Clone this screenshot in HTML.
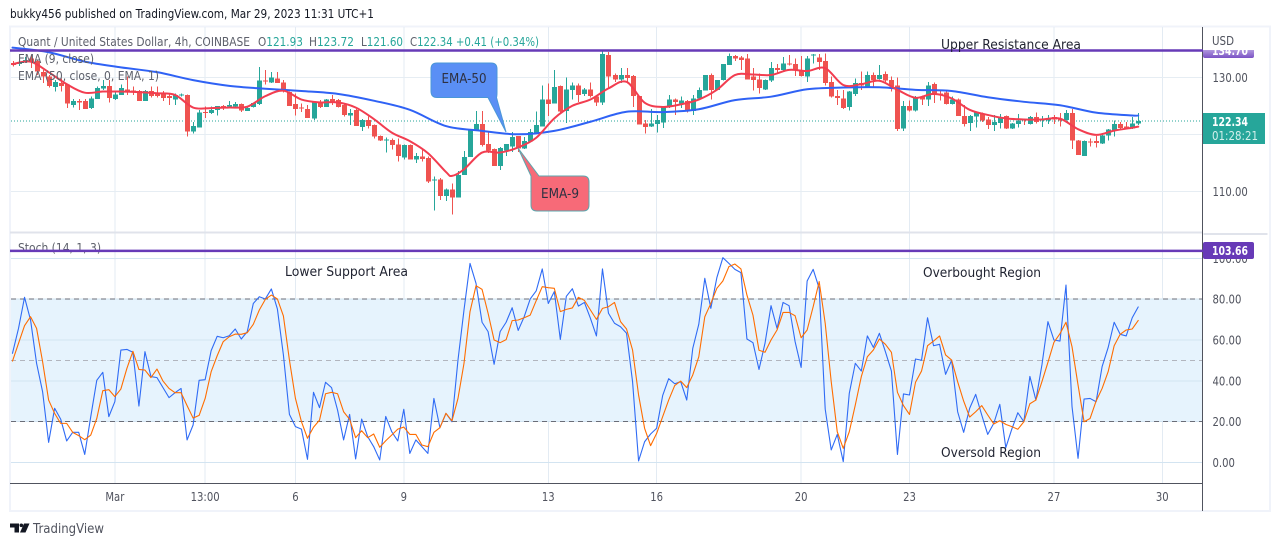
<!DOCTYPE html>
<html lang="en">
<head>
<meta charset="utf-8">
<title>Quant / United States Dollar chart</title>
<style>
html,body{margin:0;padding:0;background:#fff;width:1280px;height:546px;overflow:hidden}
svg{display:block;font-family:"DejaVu Sans","Liberation Sans",sans-serif}
</style>
</head>
<body>
<svg id="chart" xmlns="http://www.w3.org/2000/svg" width="1280" height="546" viewBox="0 0 1280 546">
<defs>
<clipPath id="clip-price"><rect x="11" y="28" width="1191" height="204"/></clipPath>
<clipPath id="clip-stoch"><rect x="11" y="234" width="1191" height="249"/></clipPath>
<clipPath id="clip-purple-label"><rect x="1203" y="50" width="51" height="9"/></clipPath>
<linearGradient id="purple-fade" x1="0" y1="0" x2="0" y2="1"><stop offset="0" stop-color="#d9cdf0"/><stop offset="1" stop-color="#7a52c4"/></linearGradient>
</defs>
<rect width="1280" height="546" fill="#fff"/>
<text x="10" y="18" font-size="12" fill="#131722" textLength="364" lengthAdjust="spacingAndGlyphs">bukky456 published on TradingView.com, Mar 29, 2023 11:31 UTC+1</text>
<rect x="10" y="26.5" width="1260" height="484.5" fill="#fff" stroke="#f0f3fa" stroke-width="2"/>
<g id="grid"></g>
<g id="bands"></g>
<g id="price-pane" clip-path="url(#clip-price)"></g>
<g id="stoch-pane" clip-path="url(#clip-stoch)"></g>
<line x1="10" y1="232.5" x2="1203" y2="232.5" stroke="#e0e3eb" stroke-width="2"/>
<line x1="1202.5" y1="27" x2="1202.5" y2="511" stroke="#50535e" stroke-width="1"/>
<line x1="10" y1="483.5" x2="1203" y2="483.5" stroke="#50535e" stroke-width="1"/>
<rect x="1203.5" y="233" width="64" height="2" fill="#e0e3eb"/>

<g font-size="12" fill="#5d606b">
<text x="18" y="46" textLength="232" lengthAdjust="spacingAndGlyphs">Quant / United States Dollar, 4h, COINBASE</text>
<text x="258" y="46" textLength="45" lengthAdjust="spacingAndGlyphs">O<tspan fill="#26a69a">121.93</tspan></text>
<text x="309" y="46" textLength="45" lengthAdjust="spacingAndGlyphs">H<tspan fill="#26a69a">123.72</tspan></text>
<text x="361" y="46" textLength="42" lengthAdjust="spacingAndGlyphs">L<tspan fill="#26a69a">121.60</tspan></text>
<text x="410" y="46" textLength="129" lengthAdjust="spacingAndGlyphs">C<tspan fill="#26a69a">122.34  +0.41 (+0.34%)</tspan></text>
<text x="18" y="63" textLength="76" lengthAdjust="spacingAndGlyphs">EMA (9, close)</text>
<text x="18" y="80" textLength="141" lengthAdjust="spacingAndGlyphs">EMA (50, close, 0, EMA, 1)</text>
<text x="18" y="252" textLength="83" lengthAdjust="spacingAndGlyphs">Stoch (14, 1, 3)</text>
</g>

<g id="levels"></g>

<g>
<path d="M437 63 H491 Q497 63 497 69 V92 Q497 97.5 496.5 97.5 L506 132 L488 97.5 H437 Q431 97.5 431 91 V69 Q431 63 437 63 Z" fill="#5a8ff5" stroke="#4a97d8" stroke-width="1"/>
<text x="464" y="83" font-size="13" fill="#2e3142" text-anchor="middle" textLength="45" lengthAdjust="spacingAndGlyphs">EMA-50</text>
</g>
<g>
<path d="M539 176 H583 Q589 176 589 182 V205 Q589 211 583 211 H537 Q531 211 531 205 V176 L518 148 Z" fill="#f76a78" stroke="#5ba7ae" stroke-width="1"/>
<text x="560" y="198" font-size="13" fill="#2e3142" text-anchor="middle" textLength="38" lengthAdjust="spacingAndGlyphs">EMA-9</text>
</g>

<g font-size="13" fill="#1f2230">
<text x="941" y="49" textLength="140" lengthAdjust="spacingAndGlyphs">Upper Resistance Area</text>
<text x="285" y="276" textLength="123" lengthAdjust="spacingAndGlyphs">Lower Support Area</text>
<text x="923" y="277" textLength="118" lengthAdjust="spacingAndGlyphs">Overbought Region</text>
<text x="941" y="457" textLength="100" lengthAdjust="spacingAndGlyphs">Oversold Region</text>
</g>

<g id="axis-labels" font-size="12" fill="#50535e"></g>
<text x="1212" y="45" font-size="12" fill="#50535e" textLength="22" lengthAdjust="spacingAndGlyphs">USD</text>

<g clip-path="url(#clip-purple-label)">
<rect x="1203" y="44" width="51" height="14" rx="2" fill="url(#purple-fade)"/>
<text x="1212" y="55" font-size="12" font-weight="bold" fill="#fff" textLength="36" lengthAdjust="spacingAndGlyphs">134.70</text>
</g>
<rect x="1203" y="242" width="51" height="17" rx="2" fill="#673ab7"/>
<text x="1212" y="255" font-size="12" font-weight="bold" fill="#fff" textLength="36" lengthAdjust="spacingAndGlyphs">103.66</text>
<rect x="1203" y="113" width="62" height="31" fill="#26a69a"/>
<text x="1212" y="126" font-size="12" font-weight="bold" fill="#fff" textLength="36" lengthAdjust="spacingAndGlyphs">122.34</text>
<text x="1212" y="140" font-size="12" fill="#d4f0ec" textLength="46" lengthAdjust="spacingAndGlyphs">01:28:21</text>

<g>
<path d="M10 523.5 H19 V532.5 H14.5 V527.5 H10 Z" fill="#131722"/>
<circle cx="21.3" cy="525.3" r="1.8" fill="#131722"/>
<path d="M24 523.5 H29.5 L25.5 532.5 H20 Z" fill="#131722"/>
<text x="33" y="533" font-size="13" fill="#50535e" textLength="71" lengthAdjust="spacingAndGlyphs">TradingView</text>
</g>
</svg>
<script>
const opens = [
132.5,132.3,132.6,133.3,132.9,130.9,130.1,128.3,129.0,128.7,
125.1,125.8,125.8,124.6,126.2,128.0,128.5,126.2,126.9,127.9,
127.7,127.6,125.8,127.6,127.1,127.1,126.7,126.1,126.8,126.9,
120.5,121.2,123.9,123.7,124.3,125.0,124.9,124.9,125.3,124.1,
124.8,125.3,129.4,129.1,129.8,129.1,127.4,125.3,124.7,124.4,
122.8,125.5,124.8,126.2,126.0,125.1,123.3,124.3,121.3,122.5,
121.6,119.7,119.0,119.0,118.2,115.9,118.1,115.6,116.1,115.8,
111.9,112.1,109.2,110.3,108.9,112.9,116.0,120.7,121.8,118.3,
117.4,114.4,117.2,117.9,119.7,117.5,118.7,120.1,121.4,126.1,
125.4,128.5,124.1,127.8,128.6,127.1,127.9,126.6,125.6,133.9,
130.4,129.6,130.4,130.2,126.7,121.9,121.4,121.8,122.1,124.8,
126.1,125.4,125.8,124.1,126.3,127.7,130.4,127.8,129.5,132.2,
133.7,133.5,133.3,130.1,129.6,127.9,129.4,131.6,131.3,132.4,
132.3,131.3,130.1,133.8,133.5,132.9,129.2,126.7,126.3,124.8,
127.1,129.0,128.4,130.4,129.7,130.6,129.5,128.6,121.0,125.0,
124.2,126.6,126.1,128.8,127.2,127.3,125.3,126.1,123.2,122.0,
123.1,123.6,122.6,121.6,122.0,123.2,121.0,121.8,122.6,121.8,
123.0,122.4,122.4,123.0,122.8,122.5,123.7,118.9,116.2,118.7,
118.8,118.4,119.8,120.6,121.8,121.4,121.0,121.93];
const highs = [
132.9,133.3,133.6,133.9,133.0,131.3,130.4,129.5,129.8,128.8,
126.2,126.2,126.2,126.6,128.4,129.5,129.5,127.5,128.7,130.1,
128.4,127.8,127.8,128.4,128.4,127.6,127.0,127.2,127.2,127.0,
122.2,124.3,124.9,124.9,125.0,125.1,125.8,125.7,125.4,124.7,
125.6,131.8,131.3,130.9,130.9,129.5,127.5,127.2,125.4,125.1,
125.8,126.0,126.2,126.9,126.2,125.3,124.4,124.4,122.7,123.1,
121.7,119.8,119.4,119.3,119.3,118.2,118.2,116.7,117.5,116.1,
112.6,112.3,110.5,111.4,113.6,117.1,120.7,124.1,124.1,120.6,
117.5,117.8,118.3,120.4,119.7,119.5,120.9,124.0,128.6,128.9,
131.3,128.6,130.0,129.1,128.9,128.1,129.1,126.7,134.9,134.4,
130.7,131.6,131.6,130.4,126.7,122.5,124.4,123.4,124.8,126.9,
126.3,126.6,126.0,126.9,128.2,130.4,130.7,129.5,132.3,134.2,
133.9,133.7,134.1,131.6,130.7,129.6,132.7,132.3,133.6,133.9,
133.3,133.7,133.7,134.1,134.1,134.2,130.1,127.8,127.8,127.6,
129.8,131.0,131.0,130.8,132.2,131.0,130.1,130.0,125.8,125.9,
126.7,126.8,129.2,129.1,127.6,127.8,126.6,126.3,125.1,123.4,
124.0,123.8,123.0,123.4,123.6,123.3,122.0,123.6,122.8,123.2,
123.8,123.2,123.4,123.4,123.7,124.3,124.4,119.0,118.9,119.3,
119.7,120.2,120.9,122.4,122.2,122.2,123.0,123.72];
const lows = [
131.9,132.0,132.5,131.6,130.4,129.0,128.2,127.5,127.5,124.6,
124.7,124.3,124.4,124.4,126.2,127.8,125.6,126.0,126.9,126.9,
126.9,125.8,125.8,126.5,126.5,125.8,125.1,125.1,126.6,119.6,
120.1,121.2,122.9,123.6,123.3,124.3,124.7,124.8,123.9,124.1,
124.7,125.1,128.7,129.0,129.0,127.3,125.0,123.3,123.9,122.9,
122.5,124.6,124.8,125.1,124.7,123.1,121.6,121.5,120.6,121.0,
119.3,118.8,116.8,117.3,115.2,115.6,115.6,115.0,115.2,111.5,
106.6,108.5,108.3,105.9,108.9,112.9,116.0,120.6,117.9,116.7,
114.4,113.7,116.2,116.9,116.9,117.4,118.7,120.1,121.4,123.2,
125.4,123.6,122.0,126.1,125.7,126.7,126.5,125.0,125.1,128.1,
129.2,129.0,128.9,124.8,121.7,120.1,121.3,120.3,121.1,124.6,
123.4,124.6,123.8,123.4,126.1,127.7,126.1,127.8,129.4,132.2,
132.9,131.3,129.6,127.7,127.2,127.8,129.2,130.6,131.2,132.1,
130.2,130.1,129.2,132.4,131.3,128.6,126.5,125.1,124.4,124.2,
126.7,127.8,128.4,128.4,129.6,129.2,127.5,120.6,120.6,124.0,
124.0,125.1,125.0,125.5,125.9,125.2,125.2,123.2,121.4,120.6,
121.2,122.2,120.9,120.6,121.0,120.9,120.9,121.2,121.6,121.7,
121.9,121.3,121.8,121.8,121.4,122.4,117.4,116.4,116.2,117.9,
117.7,118.3,118.9,119.6,120.8,120.8,120.9,121.60];
const closes = [
132.2,132.7,133.0,132.6,131.0,130.1,128.5,129.2,128.5,125.4,
125.8,125.6,124.4,126.3,128.1,128.5,126.4,127.0,128.1,127.5,
127.5,125.8,127.6,126.7,126.7,126.4,126.4,126.9,127.0,120.5,
121.5,123.8,123.7,124.3,125.0,124.8,125.1,125.3,124.2,124.6,
125.5,129.4,129.3,130.0,129.0,127.5,125.0,124.4,124.6,122.9,
125.6,124.8,126.1,125.5,124.8,123.4,123.7,121.5,122.5,121.5,
119.6,118.9,119.1,118.1,116.2,118.1,115.6,116.2,115.7,111.7,
112.1,109.2,110.3,108.9,112.9,116.0,120.7,121.8,118.1,117.2,
114.4,117.6,118.3,119.5,117.5,118.8,120.4,121.6,126.1,125.3,
128.3,124.0,127.9,128.6,126.9,127.9,126.7,125.6,134.1,130.1,
129.6,130.4,129.9,126.7,121.7,121.3,121.9,122.5,124.8,126.1,
125.7,125.9,124.1,126.3,127.8,130.4,127.8,129.5,132.3,133.7,
133.3,133.0,129.6,129.5,128.1,129.5,131.6,131.3,132.4,132.3,
131.2,130.2,133.3,134.0,132.7,129.0,126.6,126.4,124.6,127.5,
129.0,128.6,130.4,129.5,130.4,129.4,128.4,120.9,125.0,124.2,
126.5,126.1,128.6,126.9,127.1,125.3,126.1,123.2,121.8,123.2,
123.8,122.4,121.6,122.2,123.0,121.0,121.9,122.4,122.4,123.0,
122.2,122.6,122.8,122.6,122.4,123.7,118.9,116.4,118.8,118.6,
118.5,119.8,120.8,121.8,121.1,121.0,121.9,122.34];

const ema9Bars = [0,3,6,9,12,15,18,21,24,27,30,33,36,39,42,45,48,51,54,57,60,63,66,69,72,73,75,78,81,84,87,90,93,96,99,102,105,108,111,114,117,120,123,126,129,132,135,138,141,144,147,150,153,156,159,162,165,168,171,174,177,180,183,186,187];
const ema9Values = [132.3,132.75,130.9,128.8,127.3,127.5,127.5,127.4,127.2,126.9,124.7,124.6,124.7,124.85,126.7,127.65,126.1,125.6,125.6,124.7,122.7,120.3,118.8,116.7,113.4,112.7,113.85,116.8,116.8,117.7,119.4,122.8,125.0,126.1,128.05,129.2,125.55,124.8,125.25,126.1,127.8,130.4,130.5,130.4,131.3,131.1,131.6,128.65,128.8,129.4,127.8,126.4,127.1,126.3,124.3,123.4,122.8,122.6,122.6,122.75,120.9,119.9,120.65,121.15,121.35];
const ema50Bars = [0,6,12,18,24,30,36,42,48,54,60,66,72,78,84,90,96,102,108,114,120,126,132,138,144,150,156,162,168,174,180,186,187];
const ema50Values = [135.2,134.4,132.75,131.75,130.9,129.5,128.5,128.0,127.6,127.1,125.9,124.3,121.45,120.6,120.0,120.6,122.2,123.95,123.9,124.4,126.0,126.6,127.9,128.2,128.25,127.8,127.6,126.5,125.7,125.1,123.8,123.3,123.3];

const stochK = [
53.5,65.7,80.9,69.8,48.6,34.7,9.9,26.6,21.3,10.6,
14.8,14.8,4.0,22.5,40.3,44.2,22.5,29.8,55.1,55.4,
54.0,27.7,54.3,42.1,41.6,36.7,31.8,34.2,36.3,11.1,
18.4,40.3,40.6,54.8,61.8,61.1,62.1,65.4,60.5,64.1,
77.9,81.2,80.1,85.0,75.2,52.7,23.6,17.6,16.4,1.6,
34.4,26.9,39.3,36.7,25.7,11.1,23.6,1.8,21.3,12.7,
7.8,1.3,22.6,15.1,10.6,26.1,4.5,11.1,7.8,4.5,
31.4,17.1,24.1,20.0,50.2,74.7,97.5,87.7,68.7,64.1,
48.1,64.1,68.7,75.8,64.7,71.4,80.1,84.1,94.8,77.9,
83.7,60.3,81.4,85.1,76.6,78.4,70.6,62.0,94.8,73.1,
68.2,66.5,63.3,39.6,0.8,10.2,14.0,16.8,32.8,41.1,
38.6,39.6,30.6,55.9,67.7,90.2,75.5,90.5,100.3,97.5,
94.6,93.0,60.5,58.7,45.6,58.4,76.8,65.7,78.4,76.8,
59.2,46.6,88.9,94.6,85.3,26.2,6.2,13.8,0.5,33.9,
48.6,44.8,62.0,56.4,63.3,54.3,44.8,4.0,33.6,33.1,
50.7,50.1,70.9,57.2,57.9,43.2,50.1,24.9,14.8,26.6,
33.4,23.3,13.8,19.2,28.5,7.3,16.4,24.4,20.0,42.2,
30.6,47.8,69.0,60.0,59.5,86.9,27.4,2.1,31.1,31.4,
29.8,47.0,56.3,68.7,62.8,62.0,70.9,76.2];
const stochD = [
49.7,58.4,67.0,71.4,65.7,49.4,30.6,24.1,19.2,19.2,
14.8,13.2,11.2,13.5,21.6,35.2,35.7,32.3,36.0,46.1,
54.5,45.6,45.3,41.6,45.8,39.9,36.3,34.2,34.2,27.9,
21.8,23.1,31.4,44.5,52.3,59.2,61.6,62.9,62.8,63.6,
67.7,74.7,79.9,82.0,80.1,71.8,50.2,31.4,20.0,11.9,
17.3,20.8,33.7,34.4,33.7,24.9,21.2,12.2,15.6,12.2,
14.0,7.5,10.7,13.5,16.4,17.4,13.8,13.8,8.6,7.8,
14.8,17.1,24.1,20.4,31.4,48.6,73.9,86.6,84.8,73.1,
60.0,58.7,60.2,69.5,69.8,70.9,72.2,79.3,86.1,85.6,
85.3,73.9,75.0,75.7,80.9,79.4,74.7,70.1,75.5,76.3,
78.4,69.0,65.4,55.1,33.1,16.8,8.3,14.3,22.5,30.6,
37.7,39.9,36.7,42.9,51.8,71.4,77.9,85.3,88.9,95.9,
97.2,94.8,82.0,72.2,55.0,54.0,60.0,64.9,73.5,73.5,
71.9,61.1,64.9,76.3,88.6,68.2,39.6,15.1,7.0,15.1,
28.2,42.1,51.8,55.1,60.5,57.9,54.0,34.4,27.9,23.6,
39.3,44.8,57.2,59.5,62.0,52.7,50.2,39.6,30.1,22.3,
24.9,27.9,23.3,18.9,20.5,18.7,17.6,16.3,20.0,28.8,
30.6,39.6,49.1,58.9,63.1,68.7,56.7,38.0,20.0,21.6,
30.1,36.3,44.5,57.2,62.8,64.9,65.4,69.6];

const priceTicks = [110,120,130];
const priceTickLabels = ['110.00','','130.00'];
const stochGridTicks = [0,20,40,60,80,100];
const stochTickLabels = ['0.00','20.00','40.00','60.00','80.00','100.00'];
const timeBars = [17,32,47,65,89,107,131,149,173,191];
const timeLabels = ['Mar','13:00','6','9','13','16','20','23','27','30'];
const bandUpper = 80;
const bandMiddle = 50;
const bandLower = 20;
const lastPrice = 122.34;
const resistanceLevel = 134.70;
const supportLevel = 103.66;

const SVG_NS = 'http://www.w3.org/2000/svg';
function barX(i){ return 12.5 + 6.02 * i; }
function priceY(p){ return 191.3 - 5.7 * (p - 110); }
function stochY(v){ return 462.6 - 2.043 * v; }
function make(tag, parent, attrs){
  const el = document.createElementNS(SVG_NS, tag);
  for (const key in attrs) el.setAttribute(key, attrs[key]);
  parent.appendChild(el);
  return el;
}
function narrowLabel(t){
  t.setAttribute('textLength', (t.getComputedTextLength() * 0.84).toFixed(1));
  t.setAttribute('lengthAdjust', 'spacingAndGlyphs');
}

const grid = document.getElementById('grid');
const bands = document.getElementById('bands');
const pricePane = document.getElementById('price-pane');
const stochPane = document.getElementById('stoch-pane');
const levels = document.getElementById('levels');
const axisLabels = document.getElementById('axis-labels');

const band = make('rect', bands, {x:11, y:stochY(bandUpper), width:1191, height:stochY(bandLower)-stochY(bandUpper), fill:'#e6f3fd', 'shape-rendering':'crispEdges'});



timeBars.forEach(function(bar, n){
  const v = make('line', grid, {x1:barX(bar), x2:barX(bar), y1:27, y2:483, stroke:'#e3ebf3', 'stroke-width':1, 'shape-rendering':'crispEdges'});
  
  
  const t = make('text', axisLabels, {x:barX(bar), y:501, 'text-anchor':'middle'});
  
  
  t.textContent = timeLabels[n];
  narrowLabel(t);
});

priceTicks.forEach(function(p, n){
  const h = make('line', grid, {x1:11, x2:1202, y1:priceY(p), y2:priceY(p), stroke:'#e6edf3', 'stroke-width':1, 'shape-rendering':'crispEdges'});
  
  
  if (priceTickLabels[n]) {
    const t = make('text', axisLabels, {x:1212.5, y:priceY(p)+4.5});
    
    
    t.textContent = priceTickLabels[n];
    narrowLabel(t);
  }
});

stochGridTicks.forEach(function(v, n){
  const h = make('line', bands, {x1:11, x2:1202, y1:stochY(v), y2:stochY(v), stroke:'#d3e4f1', 'stroke-width':1, 'shape-rendering':'crispEdges'});
  
  
  const t = make('text', axisLabels, {x:1212.5, y:stochY(v)+4.5});
  
  
  t.textContent = stochTickLabels[n];
  narrowLabel(t);
});

[[bandUpper,'#6a6d78'],[bandMiddle,'#b2b5be'],[bandLower,'#6a6d78']].forEach(function(b){
  const d = make('line', bands, {x1:11, x2:1202, y1:stochY(b[0]), y2:stochY(b[0]), stroke:b[1], 'stroke-width':1, 'stroke-dasharray':'5 4', 'shape-rendering':'crispEdges'});
  
  
});

const lastLine = make('line', pricePane, {x1:11, x2:1202, y1:priceY(lastPrice), y2:priceY(lastPrice), stroke:'#26a69a', 'stroke-width':1, 'stroke-dasharray':'1 2', 'shape-rendering':'crispEdges'});



closes.forEach(function(c, i){
  const o = opens[i];
  const color = c >= o ? '#26a69a' : '#ef5350';
  const x = Math.round(barX(i));
  const wick = make('rect', pricePane, {x:x, y:priceY(highs[i]), width:1, height:priceY(lows[i])-priceY(highs[i]), fill:color, 'shape-rendering':'crispEdges'});
  
  
  const top = priceY(Math.max(o, c));
  const h = Math.max(1, priceY(Math.min(o, c)) - top);
  const body = make('rect', pricePane, {x:x-2, y:top, width:5, height:h, fill:color, 'shape-rendering':'crispEdges'});
  
  
});

function smoothPath(parent, xs, ys, color, width){
  let d = 'M' + xs[0].toFixed(2) + ' ' + ys[0].toFixed(2);
  for (let i = 0; i < xs.length - 1; i++) {
    const a = Math.max(i - 1, 0), b = Math.min(i + 2, xs.length - 1);
    const c1x = xs[i] + (xs[i+1] - xs[a]) / 6, c1y = ys[i] + (ys[i+1] - ys[a]) / 6;
    const c2x = xs[i+1] - (xs[b] - xs[i]) / 6, c2y = ys[i+1] - (ys[b] - ys[i]) / 6;
    d += ' C' + c1x.toFixed(2) + ' ' + c1y.toFixed(2) + ' ' + c2x.toFixed(2) + ' ' + c2y.toFixed(2) + ' ' + xs[i+1].toFixed(2) + ' ' + ys[i+1].toFixed(2);
  }
  return make('path', parent, {d:d, fill:'none', stroke:color, 'stroke-width':width, 'stroke-linejoin':'round', 'stroke-linecap':'round'});
}
function polyline(parent, xs, ys, color, width){
  const pts = xs.map(function(x, i){ return x.toFixed(2) + ',' + ys[i].toFixed(2); }).join(' ');
  return make('polyline', parent, {points:pts, fill:'none', stroke:color, 'stroke-width':width, 'stroke-linejoin':'round', 'stroke-linecap':'round'});
}

const ema50Line = smoothPath(pricePane, ema50Bars.map(barX), ema50Values.map(priceY), '#2f62f5', 2);


const ema9Line = smoothPath(pricePane, ema9Bars.map(barX), ema9Values.map(priceY), '#f23d50', 2);



const kLine = polyline(stochPane, stochK.map(function(v, i){ return barX(i); }), stochK.map(stochY), '#2f6bf5', 1.1);


const dLine = polyline(stochPane, stochD.map(function(v, i){ return barX(i); }), stochD.map(stochY), '#ff6d00', 1.1);



const resistance = make('line', levels, {x1:10, x2:1203, y1:priceY(resistanceLevel), y2:priceY(resistanceLevel), stroke:'#673ab7', 'stroke-width':2.5});


const support = make('line', levels, {x1:10, x2:1203, y1:stochY(supportLevel), y2:stochY(supportLevel), stroke:'#673ab7', 'stroke-width':2.5});


</script>
</body>
</html>
